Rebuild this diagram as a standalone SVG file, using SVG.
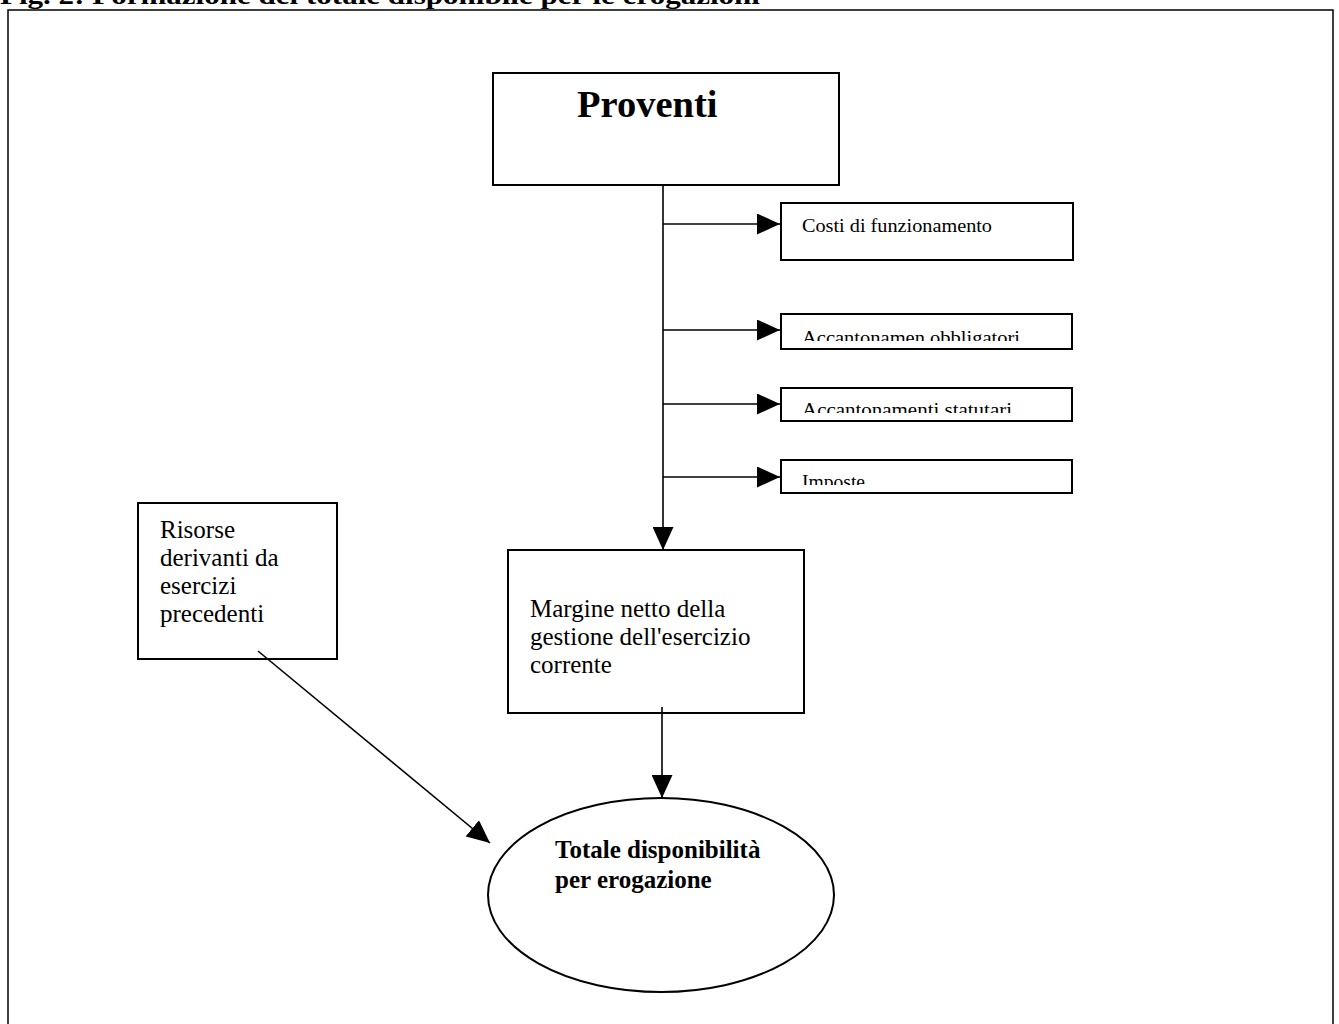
<svg xmlns="http://www.w3.org/2000/svg" width="1339" height="1024" viewBox="0 0 1339 1024">
<style>
  .box { fill: #fff; stroke: #000; stroke-width: 2; }
  .frame { fill: none; stroke: #000; stroke-width: 1.5; }
  .conn { fill: none; stroke: #000; stroke-width: 1.6; }
  .serif { font-family: "Liberation Serif", "Times New Roman", serif; fill: #000; }
  .big { font-size: 25px; }
  .bold { font-weight: bold; }
</style>
<defs>
  <marker id="arrow" markerUnits="userSpaceOnUse" markerWidth="23" markerHeight="21" refX="23" refY="10.5" orient="auto">
    <path d="M0,0 L23,10.5 L0,21 Z" fill="#000"/>
  </marker>
  <clipPath id="clipObb"><rect x="781" y="314" width="290" height="27"/></clipPath>
  <clipPath id="clipStat"><rect x="781" y="388" width="290" height="25"/></clipPath>
  <clipPath id="clipImp"><rect x="781" y="460" width="290" height="25"/></clipPath>
</defs>
<rect width="1339" height="1024" fill="#fff"/>

<text class="serif bold" x="0" y="4" font-size="26" textLength="760" lengthAdjust="spacingAndGlyphs">Fig. 2: Formazione del totale disponibile per le erogazioni</text>

<rect class="frame" x="8" y="10" width="1325" height="1030"/>

<g id="proventi">
  <rect class="box" x="493" y="73" width="346" height="112"/>
  <text class="serif bold" x="577" y="117" font-size="38.5">Proventi</text>
</g>

<g id="costi">
  <rect class="box" x="781" y="203" width="292" height="57"/>
  <text class="serif" x="802" y="232" font-size="19" textLength="190" lengthAdjust="spacingAndGlyphs">Costi di funzionamento</text>
</g>

<g id="obbligatori">
  <rect class="box" x="781" y="314" width="291" height="35"/>
  <text class="serif" x="802" y="344" font-size="19" textLength="218" lengthAdjust="spacingAndGlyphs" clip-path="url(#clipObb)">Accantonamen obbligatori</text>
</g>

<g id="statutari">
  <rect class="box" x="781" y="388" width="291" height="33"/>
  <text class="serif" x="802" y="416" font-size="18.5" textLength="210" lengthAdjust="spacingAndGlyphs" clip-path="url(#clipStat)">Accantonamenti statutari</text>
</g>

<g id="imposte">
  <rect class="box" x="781" y="460" width="291" height="33"/>
  <text class="serif" x="802" y="488" font-size="18.5" textLength="63" lengthAdjust="spacingAndGlyphs" clip-path="url(#clipImp)">Imposte</text>
</g>

<g id="risorse">
  <rect class="box" x="138" y="503" width="199" height="156"/>
  <text class="serif big">
    <tspan x="160" y="538">Risorse</tspan>
    <tspan x="160" y="566">derivanti da</tspan>
    <tspan x="160" y="594">esercizi</tspan>
    <tspan x="160" y="622">precedenti</tspan>
  </text>
</g>

<g id="margine">
  <rect class="box" x="508" y="550" width="296" height="163"/>
  <text class="serif big">
    <tspan x="530" y="617">Margine netto della</tspan>
    <tspan x="530" y="645">gestione dell'esercizio</tspan>
    <tspan x="530" y="673">corrente</tspan>
  </text>
</g>

<g id="totale">
  <ellipse class="box" cx="661" cy="895" rx="173" ry="97" stroke-width="2.5"/>
  <text class="serif bold" font-size="25">
    <tspan x="555" y="858">Totale disponibilità</tspan>
    <tspan x="555" y="888">per erogazione</tspan>
  </text>
</g>

<g id="connectors">
  <line class="conn" x1="663" y1="185" x2="663" y2="550" marker-end="url(#arrow)"/>
  <line class="conn" x1="663" y1="224" x2="780" y2="224" marker-end="url(#arrow)"/>
  <line class="conn" x1="663" y1="330" x2="780" y2="330" marker-end="url(#arrow)"/>
  <line class="conn" x1="663" y1="404" x2="780" y2="404" marker-end="url(#arrow)"/>
  <line class="conn" x1="663" y1="477" x2="780" y2="477" marker-end="url(#arrow)"/>
  <line class="conn" x1="662" y1="707" x2="662" y2="798" marker-end="url(#arrow)"/>
  <line class="conn" x1="258" y1="651" x2="490" y2="843" marker-end="url(#arrow)"/>
</g>
</svg>
